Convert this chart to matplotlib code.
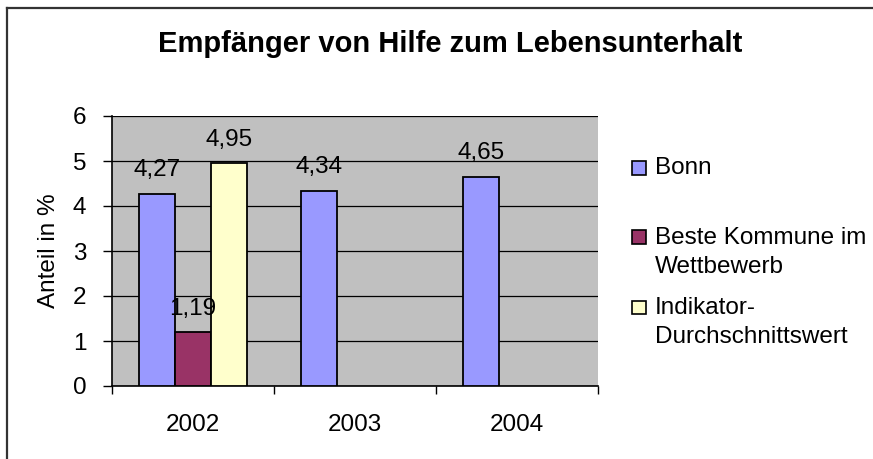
import matplotlib
matplotlib.use("Agg")
import matplotlib.pyplot as plt
from matplotlib.patches import Rectangle
from matplotlib.lines import Line2D
import numpy as np

plt.rcParams['font.family'] = ['Liberation Sans', 'DejaVu Sans']

years = ['2002', '2003', '2004']
series_names = ['Bonn', 'Beste Kommune im\nWettbewerb', 'Indikator-\nDurchschnittswert']
bonn = [4.27, 4.34, 4.65]
beste = [1.19]          # only 2002
indikator = [4.95]      # only 2002
colors = ['#9999FF', '#993366', '#FFFFCC']
yticks = [0, 1, 2, 3, 4, 5, 6]

W, H = 873, 459
fig = plt.figure(figsize=(W / 100, H / 100), dpi=100)
fig.patch.set_facecolor('white')

ax = fig.add_axes([112 / W, 1 - 386 / H, (598 - 112) / W, (386 - 116) / H])
ax.set_facecolor('#C0C0C0')

x = np.arange(len(years))
w = 36 / 162
fs = 17.5

b1 = ax.bar(x - w, bonn, w, color=colors[0], edgecolor='black', linewidth=1.3, zorder=3)
b2 = ax.bar(x[:len(beste)], beste, w, color=colors[1], edgecolor='black', linewidth=1.3, zorder=3)
b3 = ax.bar(x[:len(indikator)] + w, indikator, w, color=colors[2], edgecolor='black', linewidth=1.3, zorder=3)

fmt = lambda v: f"{v:.2f}".replace('.', ',')
for bars in (b1, b2, b3):
    ax.bar_label(bars, labels=[fmt(b.get_height()) for b in bars], padding=9,
                 fontsize=fs, zorder=5)

ax.set_xlim(-0.5, 2.5)
ax.set_ylim(0, 6)
ax.set_yticks(yticks)
ax.set_yticklabels([str(t) for t in yticks], fontsize=fs)
ax.yaxis.grid(True, color='black', linewidth=0.9, zorder=1)
ax.set_axisbelow(True)

ax.set_xticks(x)
ax.set_xticklabels(years, fontsize=fs)
ax.set_xticks(np.arange(-0.5, 3.0, 1.0), minor=True)
ax.tick_params(axis='x', which='major', length=0, pad=20)
ax.tick_params(axis='x', which='minor', length=6, width=1, direction='out', color='black')
ax.tick_params(axis='y', length=6.5, width=1, direction='out', pad=12, color='black')

for s in ('top', 'right'):
    ax.spines[s].set_visible(False)
for s in ('left', 'bottom'):
    ax.spines[s].set_color('black')
    ax.spines[s].set_linewidth(1.2)

ax.set_ylabel('Anteil in %', fontsize=fs, labelpad=9)

fig.text(450 / W, 1 - 52 / H, 'Empfänger von Hilfe zum Lebensunterhalt',
         fontsize=21, fontweight='bold', ha='center', va='baseline')

# legend (manual, Excel-like spacing)
leg_items = [
    (colors[0], 161, 175, ['Bonn'], [174]),
    (colors[1], 230, 244, ['Beste Kommune im', 'Wettbewerb'], [244, 273]),
    (colors[2], 301, 314, ['Indikator-', 'Durchschnittswert'], [314, 343]),
]
for col, top, bot, lines, bases in leg_items:
    fig.patches.append(Rectangle((632 / W, 1 - bot / H), 14 / W, (bot - top) / H,
                                 transform=fig.transFigure, facecolor=col,
                                 edgecolor='black', linewidth=1.2))
    for ln, bl in zip(lines, bases):
        fig.text(655 / W, 1 - bl / H, ln, fontsize=fs, ha='left', va='baseline')

# figure border (left and top only)
fig.add_artist(Line2D([7 / W, 7 / W], [0, 1 - 8 / H], transform=fig.transFigure,
                      color='#333333', linewidth=1.6))
fig.add_artist(Line2D([7 / W, 1], [1 - 8 / H, 1 - 8 / H], transform=fig.transFigure,
                      color='#333333', linewidth=1.6))

fig.savefig('out.png', dpi=100)
